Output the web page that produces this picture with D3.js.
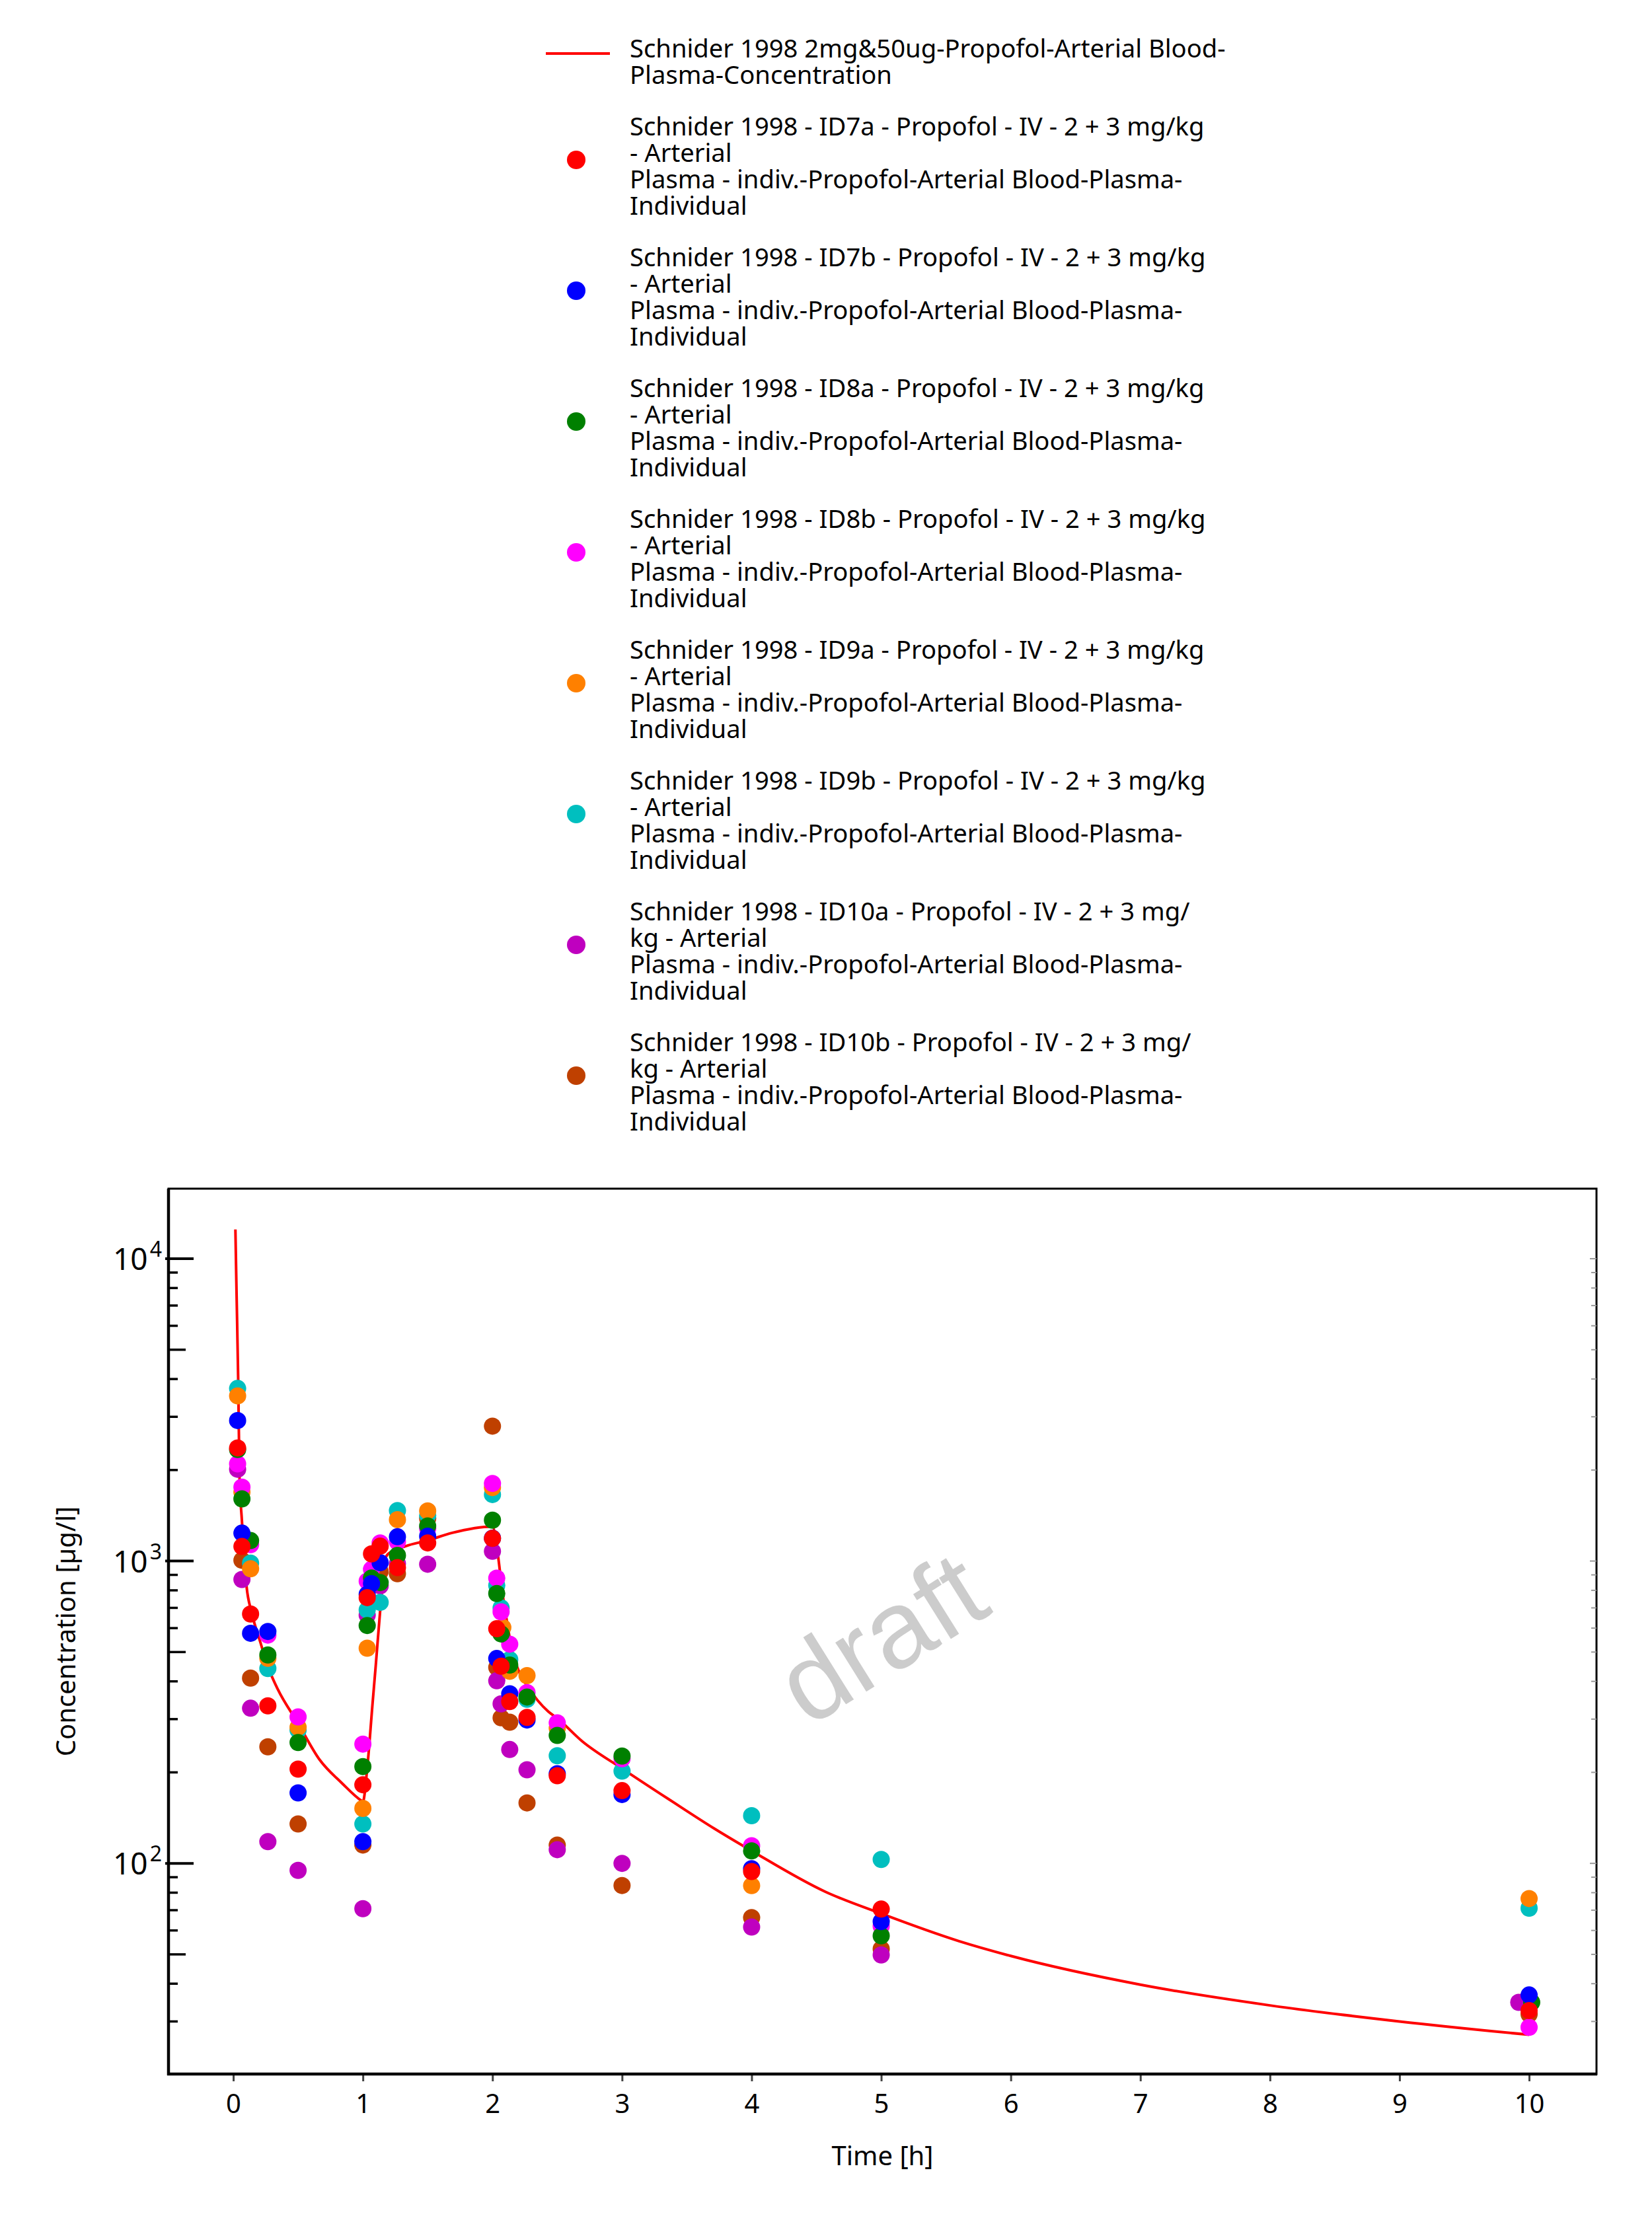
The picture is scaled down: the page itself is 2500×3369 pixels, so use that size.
<!DOCTYPE html>
<html><head><meta charset="utf-8">
<script src="https://cdn.jsdelivr.net/npm/d3@7"></script>
<style>body{margin:0;background:#fff}</style>
</head><body>
<svg id="chart" width="2500" height="3369"></svg>
<script>
// ---------- data ----------
const simTimes  = [0.0163,0.0245,0.038,0.048,0.066,0.103,0.14,0.208,0.271,0.344,0.497,0.667,0.837,0.99,1.0,1.033,1.074,1.1,1.134,1.16,1.18,1.2,1.33,1.5,1.69,2.0,2.043,2.077,2.111,2.153,2.213,2.27,2.43,2.5,2.69,3.0,3.37,3.71,4.0,4.57,5.0,5.6,6.0,7.0,8.0,9.0,10.0];
const simValues = [12500,7970,3930,1890,1370,820,680,540,443,376,292,220,184.5,161,160,205,335,455,690,900,1035,1060,1120,1170,1240,1300,1040,787,634,501,423,385,318,302,254,206,162,130.5,110,80.5,68.2,55.3,49.4,39.7,33.9,30.0,27.1];

const tID7a = [0.0333,0.0667,0.1333,0.2667,0.5,1.0,1.0333,1.0667,1.1333,1.2667,1.5,2.0,2.0333,2.0667,2.1333,2.2667,2.5,3,4,5,10];
const cID7a = [2367,1117,668,332,205,182,757,1056,1120,951,1148,1188,597,449,343,304,195,174,94,70.6,32.6];
const tID7b = [0.0333,0.0667,0.1333,0.2667,0.5,1.0,1.0333,1.0667,1.1333,1.2667,1.5,2.0,2.0333,2.1333,2.2667,2.5,3,4,5,10];
const cID7b = [2916,1237,577,585,171,118,776,842,988,1203,1208,1190,476,364,298,198,169,96,64.2,36.7];
const tID8a = [0.0333,0.0667,0.1333,0.2667,0.5,1.0,1.0333,1.0667,1.1333,1.2667,1.5,2.0,2.0333,2.0667,2.1333,2.2667,2.5,3,4,5,10.02];
const cID8a = [2338,1606,1169,489,251,209,612,879,849,1044,1306,1365,781,574,453,355,265,226.5,110,57.6,34.7];
const tID8b = [0.0333,0.0667,0.1333,0.2667,0.5,1.0,1.0333,1.0667,1.1333,1.2667,1.5,2.0,2.0333,2.0667,2.1333,2.2667,2.5,3,4,5,10];
const cID8b = [2097,1756,1133,569,305,248,858,939,1148,1158,1282,1806,878,679,531,367,291.5,222,114.4,62,28.7];
const tID9a = [0.0333,0.0667,0.1333,0.2667,0.5,1.0,1.0333,1.2667,1.5,2.0,2.08,2.1333,2.2667,2.5,4,10];
const cID9a = [3518,1690,943,477,282,152,515,1371,1465,1750,603,432,418,280,84.4,76.5];
const tID9b = [0.0333,0.1333,0.2667,0.5,1.0,1.0333,1.1333,1.2667,1.5,2.0,2.0333,2.0667,2.1333,2.2667,2.5,3,4,5,10];
const cID9b = [3724,984,441,276,135,689,730,1468,1416,1660,830,700,472,349,227,202,143.8,103,71.1];
const tID10a = [0.0333,0.0667,0.1333,0.2667,0.5,1.0,1.0333,1.1333,1.2667,1.5,2.0,2.0333,2.0667,2.1333,2.2667,2.5,3,4,5,9.92];
const cID10a = [2012,869,326,118,94.8,70.8,662,828,980,976,1077,402,337,238,204,111,100,61.6,49.8,34.7];
const tID10b = [0.0667,0.1333,0.2667,0.5,1.0,1.1333,1.2667,1.5,2.0,2.0333,2.0667,2.1333,2.2667,2.5,3,4,5,10];
const cID10b = [1006,410,243,135,115,923,908,1383,2794,445,303,293,158.5,115,84.5,66.2,52.1,31.7];

const seriesColors = ["#ff0000","#0000ff","#008000","#ff00ff","#ff8000","#00bfbf","#bf00bf","#bf4000"];
const seriesIds = ["ID7a","ID7b","ID8a","ID8b","ID9a","ID9b","ID10a","ID10b"];
const seriesTimes = [tID7a,tID7b,tID8a,tID8b,tID9a,tID9b,tID10a,tID10b];
const seriesValues = [cID7a,cID7b,cID8a,cID8b,cID9a,cID9b,cID10a,cID10b];

const lineLabel = ["Schnider 1998 2mg&50ug-Propofol-Arterial Blood-","Plasma-Concentration"];
const obsLabels = seriesIds.map(id => id.length > 4
  ? ["Schnider 1998 - " + id + " - Propofol - IV - 2 + 3 mg/","kg - Arterial","Plasma - indiv.-Propofol-Arterial Blood-Plasma-","Individual"]
  : ["Schnider 1998 - " + id + " - Propofol - IV - 2 + 3 mg/kg","- Arterial","Plasma - indiv.-Propofol-Arterial Blood-Plasma-","Individual"]);

const xTicks = [0,1,2,3,4,5,6,7,8,9,10];
const yMajor = [100,1000,10000];
const yMajorExp = ["2","3","4"];
const xTitle = "Time [h]";
const yTitle = "Concentration [µg/l]";
const watermark = "draft";

// ---------- layout ----------
const FONT = "'Noto Sans', sans-serif";
const svg = d3.select("#chart");
const L = 255, R = 2416, T = 1799, B = 3139;
const x = d3.scaleLinear().domain([-0.5, 10.52]).range([L, R]);
const y = d3.scaleLog().domain([20.1, 17050]).range([B, T]);

// watermark
svg.append("text")
  .attr("transform", "translate(1333,2478) rotate(-32)")
  .attr("text-anchor", "middle").attr("dy", "0.35em")
  .attr("font-family", "'Liberation Sans', Arial, sans-serif")
  .attr("font-size", 166).attr("fill", "#cccccc").text(watermark);

// frame
svg.append("rect").attr("x", L).attr("y", T).attr("width", R - L).attr("height", B - T)
  .attr("fill", "none").attr("stroke", "#000").attr("stroke-width", 3);

// minor y ticks
const minor = [];
[10,100,1000].forEach(d => { for (let k = 2; k <= 9; k++) { const v = k*d; if (v > 25 && v < 17000) minor.push(v); }});
const gy = svg.append("g");
minor.forEach(v => {
  const len = (String(v)[0] === "5") ? 26 : 14;
  gy.append("line").attr("x1", L).attr("x2", L + len).attr("y1", y(v)).attr("y2", y(v))
    .attr("stroke", "#000").attr("stroke-width", 3.5);
  gy.append("line").attr("x1", R).attr("x2", R - 8).attr("y1", y(v)).attr("y2", y(v))
    .attr("stroke", "#999").attr("stroke-width", 2);
});
yMajor.forEach((v, i) => {
  gy.append("line").attr("x1", L - 5).attr("x2", L + 38).attr("y1", y(v)).attr("y2", y(v))
    .attr("stroke", "#000").attr("stroke-width", 4);
  gy.append("line").attr("x1", R).attr("x2", R - 10).attr("y1", y(v)).attr("y2", y(v))
    .attr("stroke", "#999").attr("stroke-width", 2);
  const t = gy.append("text").attr("x", 245).attr("y", y(v) + 17).attr("text-anchor", "end")
    .attr("font-family", FONT).attr("font-size", 46).attr("fill", "#000");
  t.append("tspan").text("10");
  t.append("tspan").attr("dx", 3).attr("dy", -20).attr("font-size", 32).text(yMajorExp[i]);
});

// x axis
const gx = svg.append("g").attr("transform", `translate(0,${B})`)
  .call(d3.axisBottom(x).tickValues(xTicks).tickSize(11).tickFormat(d3.format("d")));
gx.select(".domain").remove();
gx.selectAll(".tick line").attr("stroke", "#444").attr("stroke-width", 3);
gx.selectAll(".tick text").attr("font-family", FONT).attr("font-size", 40).attr("fill", "#000")
  .attr("y", 0).attr("dy", 0).attr("transform", "translate(0,59)");

// heavier left and bottom axis lines
svg.append("line").attr("x1", L).attr("x2", L).attr("y1", T).attr("y2", B + 2).attr("stroke", "#000").attr("stroke-width", 4.5);
svg.append("line").attr("x1", L - 2).attr("x2", R + 1).attr("y1", B).attr("y2", B).attr("stroke", "#000").attr("stroke-width", 4.5);

// axis titles
svg.append("text").attr("x", (L + R) / 2).attr("y", 3277).attr("text-anchor", "middle")
  .attr("font-family", FONT).attr("font-size", 40).text(xTitle);
svg.append("text").attr("transform", `translate(114,${(T + B) / 2}) rotate(-90)`).attr("text-anchor", "middle")
  .attr("font-family", FONT).attr("font-size", 40).text(yTitle);

// clip
svg.append("clipPath").attr("id", "clip").append("rect").attr("x", L).attr("y", T).attr("width", R - L).attr("height", B - T);
const plot = svg.append("g").attr("clip-path", "url(#clip)");

// simulated line
const sim = simTimes.map((t, i) => [t, simValues[i]]);
plot.append("path").datum(sim)
  .attr("d", d3.line().curve(d3.curveMonotoneX).x(d => x(d[0])).y(d => y(d[1])))
  .attr("fill", "none").attr("stroke", "#ff0000").attr("stroke-width", 4).attr("stroke-linejoin", "round");

// observed points (drawn last series first)
for (let s = seriesTimes.length - 1; s >= 0; s--) {
  const pts = seriesTimes[s].map((t, i) => [t, seriesValues[s][i]]);
  plot.append("g").selectAll("circle").data(pts).join("circle")
    .attr("cx", d => x(d[0])).attr("cy", d => y(d[1])).attr("r", 13)
    .attr("fill", seriesColors[s]);
}

// legend
const lg = svg.append("g");
let base = 87;
const LH = 40, GAP = 78, MX = 872, TX = 953;
function addText(lines, b) {
  const t = lg.append("text").attr("font-family", FONT).attr("font-size", 38.2).attr("fill", "#000");
  lines.forEach((ln, i) => t.append("tspan").attr("x", TX).attr("y", b + i * LH).text(ln));
}
addText(lineLabel, base);
{
  const my = (base + base + (lineLabel.length - 1) * LH) / 2 - 26;
  lg.append("line").attr("x1", 826).attr("x2", 923).attr("y1", my).attr("y2", my)
    .attr("stroke", "#ff0000").attr("stroke-width", 4);
}
base += (lineLabel.length - 1) * LH + GAP;
obsLabels.forEach((lines, s) => {
  addText(lines, base);
  const my = (base + base + (lines.length - 1) * LH) / 2 - 23;
  lg.append("circle").attr("cx", MX).attr("cy", my).attr("r", 14).attr("fill", seriesColors[s]);
  base += (lines.length - 1) * LH + GAP;
});
</script>
</body></html>
